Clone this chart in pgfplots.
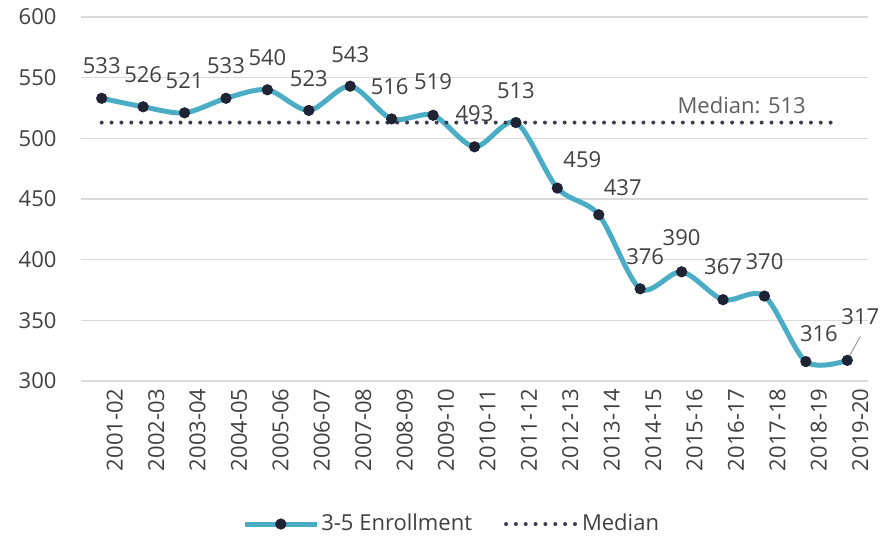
\documentclass[border=0pt]{standalone}
\usepackage{pgfplots}
\pgfplotsset{compat=1.18}
\usepackage{pgfplotstable}
\usepackage{fontspec}
\setmainfont{Open Sans}
\definecolor{linecol}{HTML}{4BACC6}
\definecolor{markcol}{HTML}{1F2333}
\definecolor{medcol}{HTML}{3A3E50}
\definecolor{gridcol}{HTML}{D9D9D9}
\definecolor{txtcol}{HTML}{404040}
\definecolor{medtxt}{HTML}{5F5F5F}
\pgfplotstableread{
x y dx dy lab
0 533 0 33 533
1 526 0 32 526
2 521 0 32 521
3 533 0 33 533
4 540 0 32 540
5 523 0 32 523
6 543 0 32 543
7 516 -2 32 516
8 519 0 34 519
9 493 0 33 493
10 513 0 32 513
11 459 25 28 459
12 437 24 27 437
13 376 5 32 376
14 390 0 34 390
15 367 0 33 367
16 370 0 34 370
17 316 13 28 316
18 317 13 44 317
}\enr
\begin{document}
\fontsize{22bp}{26bp}\selectfont
\begin{tikzpicture}
\begin{axis}[
  width=787bp, height=364bp, scale only axis,
  xmin=-0.5, xmax=18.5, ymin=300, ymax=600,
  ytick={300,350,...,600},
  xtick={0,...,18},
  xticklabels={2001-02,2002-03,2003-04,2004-05,2005-06,2006-07,2007-08,2008-09,2009-10,2010-11,2011-12,2012-13,2013-14,2014-15,2015-16,2016-17,2017-18,2018-19,2019-20},
  /pgf/number format/assume math mode=true,
  axis line style={draw=none},
  major tick length=0pt,
  ymajorgrids, grid style={color=gridcol, line width=1.3bp},
  tick label style={font=\fontsize{22bp}{26bp}\selectfont, text=txtcol},
  yticklabel style={xshift=-17bp},
  xticklabel style={rotate=90, anchor=east, yshift=-13bp},
  clip=false,
  legend columns=2,
  legend style={at={(0.471,-0.393)}, anchor=center, draw=none, fill=none,
    font=\fontsize{22bp}{26bp}\selectfont, text=txtcol,
    /tikz/every even column/.append style={column sep=30bp},
    inner sep=0pt},
  legend image code/.code={\draw[#1, mark repeat=2, mark phase=2] plot coordinates {(0bp,0bp) (36bp,0bp) (72bp,0bp)};},
]
\addplot[color=linecol, line width=5bp, smooth, mark=*, mark size=5.2bp,
  mark options={fill=markcol, draw=markcol, line width=0.8bp, solid},
  visualization depends on={\thisrow{dx} \as \dx},
  visualization depends on={\thisrow{dy} \as \dy},
  point meta=explicit symbolic,
  nodes near coords,
  every node near coord/.append style={anchor=center, xshift=\dx bp, yshift=\dy bp, text=txtcol, font=\fontsize{22bp}{26bp}\selectfont, inner sep=0pt},
] table[x=x, y=y, meta=lab] {\enr};
\addlegendentry{3-5 Enrollment}
\addplot[color=medcol, line width=4bp, line cap=round, dash pattern=on 0bp off 9.85bp, mark=none] coordinates {(0,513) (17.8,513)};
\addlegendentry{Median}
\addplot[draw=none, mark=none, forget plot, point meta=explicit symbolic,
  nodes near coords,
  every node near coord/.append style={anchor=center, yshift=17bp, text=medtxt, font=\fontsize{22bp}{26bp}\selectfont, inner sep=0pt}]
  coordinates {(15.45,513) [Median: 513]};
\draw[color=gray!80, line width=1bp] (axis cs:18,317) ++(2bp,4bp) -- ++(11bp,20bp);
\end{axis}
\path (current axis.south west) ++(-81bp,-159bp);
\path (current axis.north east) ++(23bp,17bp);
\end{tikzpicture}
\end{document}
